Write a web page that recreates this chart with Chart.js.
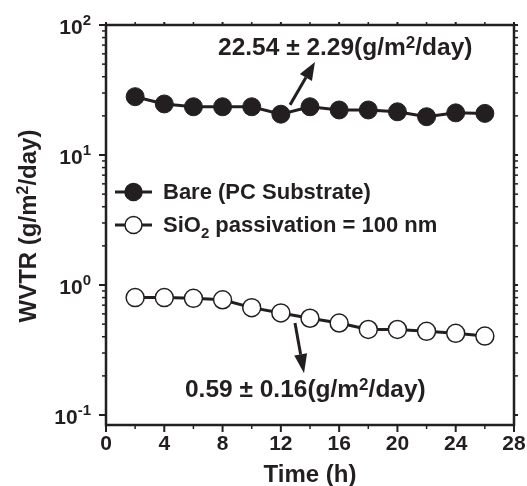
<!DOCTYPE html>
<html><head><meta charset="utf-8">
<script src="https://cdn.jsdelivr.net/npm/chart.js@4/dist/chart.umd.min.js"></script>
<style>html,body{margin:0;padding:0;background:#fff}canvas{display:block}</style>
</head><body>
<canvas id="c" width="527" height="486"></canvas>
<script>
// ---- data ----
const timeHours = [2, 4, 6, 8, 10, 12, 14, 16, 18, 20, 22, 24, 26];
const bareWVTR = [28.1, 24.7, 23.5, 23.5, 23.5, 20.6, 23.5, 22.2, 22.2, 21.5, 19.7, 21.1, 20.9];
const sio2WVTR = [0.80, 0.80, 0.79, 0.77, 0.67, 0.61, 0.555, 0.51, 0.455, 0.455, 0.44, 0.425, 0.405];
const seriesNames = ['Bare (PC Substrate)', 'SiO2 passivation = 100 nm'];
const xTickLabels = [0, 4, 8, 12, 16, 20, 24, 28];
const xMinorTicks = [2, 6, 10, 14, 18, 22, 26];
const yTickExponents = [-1, 0, 1, 2];
const xTitle = 'Time (h)';
const yTitleParts = [['WVTR (g/m', 0], ['2', 1], ['/day)', 0]];
const bareNote = [['22.54 \u00b1 2.29(g/m', 0], ['2', 1], ['/day)', 0]];
const sio2Note = [['0.59 \u00b1 0.16(g/m', 0], ['2', 1], ['/day)', 0]];
// annotation anchors in data units (hours, WVTR)
const bareNoteAt = [7.69, 58.8];
const bareArrow = [[12.63, 24.3], [14.34, 51.9]];
const sio2NoteAt = [5.42, 0.1375];
const sio2Arrow = [[12.97, 0.51], [13.59, 0.21]];

const INK = '#231f20';
const FONT = '"Liberation Sans", Arial, Helvetica, sans-serif';

function drawRich(ctx, parts, x, y, size, align, supScale, supRaise) {
  supScale = supScale || 0.65; supRaise = supRaise || 0.3;
  const widths = parts.map(([t, k]) => {
    ctx.font = `bold ${k ? Math.round(size * supScale) : size}px ${FONT}`;
    return ctx.measureText(t).width;
  });
  const w = widths.reduce((s, v) => s + v, 0);
  let cx = align === 'center' ? x - w / 2 : align === 'right' ? x - w : x;
  parts.forEach(([t, k], i) => {
    ctx.font = `bold ${k ? Math.round(size * supScale) : size}px ${FONT}`;
    const dy = k === 1 ? -size * supRaise : k === -1 ? size * 0.28 : 0;
    ctx.fillText(t, cx, y + dy);
    cx += widths[i];
  });
  return w;
}

function arrow(ctx, x0, y0, x1, y1, len, half) {
  const ang = Math.atan2(y1 - y0, x1 - x0);
  const bx = x1 - Math.cos(ang) * len, by = y1 - Math.sin(ang) * len;
  ctx.lineWidth = 3;
  ctx.beginPath(); ctx.moveTo(x0, y0); ctx.lineTo(bx, by); ctx.stroke();
  ctx.beginPath();
  ctx.moveTo(x1, y1);
  ctx.lineTo(bx + Math.sin(ang) * half, by - Math.cos(ang) * half);
  ctx.lineTo(bx - Math.sin(ang) * half, by + Math.cos(ang) * half);
  ctx.closePath(); ctx.fill();
}

const decor = {
  id: 'decor',
  afterDraw(chart) {
    const { ctx, chartArea: a, scales: { x, y } } = chart;
    ctx.save();
    ctx.strokeStyle = INK; ctx.fillStyle = INK; ctx.lineCap = 'butt';
    // x ticks
    ctx.lineWidth = 2;
    xTickLabels.forEach(v => {
      const px = x.getPixelForValue(v);
      ctx.beginPath(); ctx.moveTo(px, a.bottom); ctx.lineTo(px, a.bottom + 7); ctx.stroke();
      ctx.beginPath(); ctx.moveTo(px, a.top); ctx.lineTo(px, a.top - 3); ctx.stroke();
    });
    ctx.lineWidth = 1.5;
    xMinorTicks.forEach(v => {
      const px = x.getPixelForValue(v);
      ctx.beginPath(); ctx.moveTo(px, a.bottom); ctx.lineTo(px, a.bottom + 4); ctx.stroke();
      ctx.beginPath(); ctx.moveTo(px, a.top); ctx.lineTo(px, a.top - 3); ctx.stroke();
    });
    // y ticks
    yTickExponents.forEach(e => {
      const base = Math.pow(10, e);
      ctx.lineWidth = 2;
      let py = y.getPixelForValue(base);
      ctx.beginPath(); ctx.moveTo(a.left, py); ctx.lineTo(a.left - 7, py); ctx.stroke();
      ctx.beginPath(); ctx.moveTo(a.right, py); ctx.lineTo(a.right + 4, py); ctx.stroke();
      if (e < 2) {
        ctx.lineWidth = 1.5;
        for (let m = 2; m <= 9; m++) {
          py = y.getPixelForValue(m * base);
          ctx.beginPath(); ctx.moveTo(a.left, py); ctx.lineTo(a.left - 4, py); ctx.stroke();
          ctx.beginPath(); ctx.moveTo(a.right, py); ctx.lineTo(a.right + 4, py); ctx.stroke();
        }
      }
    });
    // frame
    ctx.lineWidth = 2.5;
    ctx.strokeRect(a.left, a.top, a.right - a.left, a.bottom - a.top);
    // x tick labels
    ctx.textBaseline = 'alphabetic';
    ctx.textAlign = 'left';
    xTickLabels.forEach(v => {
      drawRich(ctx, [[String(v), 0]], x.getPixelForValue(v), a.bottom + 25, 21, 'center');
    });
    // y tick labels
    yTickExponents.forEach(e => {
      const py = y.getPixelForValue(Math.pow(10, e));
      ctx.font = `bold 15px ${FONT}`;
      const sup = e < 0 ? '-' + (-e) : String(e);
      const sw = ctx.measureText(sup).width;
      ctx.fillText(sup, 91 - sw, py);
      ctx.font = `bold 21px ${FONT}`;
      const mw = ctx.measureText('10').width;
      ctx.fillText('10', 91 - sw - mw, py + 9);
    });
    // axis titles
    drawRich(ctx, [[xTitle, 0]], (a.left + a.right) / 2, 482, 24, 'center');
    ctx.save();
    ctx.translate(36, (a.top + a.bottom) / 2 + 1);
    ctx.rotate(-Math.PI / 2);
    drawRich(ctx, yTitleParts, 0, 0, 24, 'center', 0.65, 0.33);
    ctx.restore();
    // legend
    const rows = [a.top + 167, a.top + 200];
    const lx = a.left + 9;
    rows.forEach((ry, i) => {
      ctx.lineWidth = 3;
      ctx.beginPath(); ctx.moveTo(lx, ry); ctx.lineTo(lx + 37, ry); ctx.stroke();
      ctx.beginPath(); ctx.arc(lx + 18.5, ry, 8.5, 0, Math.PI * 2);
      ctx.fillStyle = i === 0 ? INK : '#fff'; ctx.fill();
      ctx.lineWidth = 1.5; ctx.stroke();
      ctx.fillStyle = INK;
    });
    drawRich(ctx, [[seriesNames[0], 0]], lx + 48, rows[0] + 7, 22, 'left');
    drawRich(ctx, [['SiO', 0], ['2', -1], [' passivation = 100 nm', 0]], lx + 48, rows[1] + 7, 22, 'left', 0.7);
    // annotations
    drawRich(ctx, bareNote, x.getPixelForValue(bareNoteAt[0]), y.getPixelForValue(bareNoteAt[1]), 24.5, 'left', 0.68, 0.3);
    drawRich(ctx, sio2Note, x.getPixelForValue(sio2NoteAt[0]), y.getPixelForValue(sio2NoteAt[1]), 24.5, 'left', 0.68, 0.3);
    arrow(ctx, x.getPixelForValue(bareArrow[0][0]), y.getPixelForValue(bareArrow[0][1]),
      x.getPixelForValue(bareArrow[1][0]), y.getPixelForValue(bareArrow[1][1]), 18, 7);
    arrow(ctx, x.getPixelForValue(sio2Arrow[0][0]), y.getPixelForValue(sio2Arrow[0][1]),
      x.getPixelForValue(sio2Arrow[1][0]), y.getPixelForValue(sio2Arrow[1][1]), 19, 6.5);
    ctx.restore();
  }
};

new Chart(document.getElementById('c'), {
  type: 'line',
  data: {
    datasets: [
      {
        label: seriesNames[0],
        data: timeHours.map((t, i) => ({ x: t, y: bareWVTR[i] })),
        borderColor: INK, borderWidth: 3,
        pointRadius: 9, pointBackgroundColor: INK, pointBorderColor: INK, pointBorderWidth: 1,
        tension: 0
      },
      {
        label: seriesNames[1],
        data: timeHours.map((t, i) => ({ x: t, y: sio2WVTR[i] })),
        borderColor: INK, borderWidth: 3,
        pointRadius: 9, pointBackgroundColor: '#fff', pointBorderColor: INK, pointBorderWidth: 1.5,
        tension: 0
      }
    ]
  },
  options: {
    responsive: false, animation: false, devicePixelRatio: 1,
    layout: { padding: { left: 106, right: 13, top: 25, bottom: 61 } },
    plugins: { legend: { display: false }, tooltip: { enabled: false } },
    scales: {
      x: { type: 'linear', min: 0, max: 28, display: false },
      y: { type: 'logarithmic', min: 0.0838, max: 100, display: false }
    }
  },
  plugins: [decor]
});
</script>
</body></html>
